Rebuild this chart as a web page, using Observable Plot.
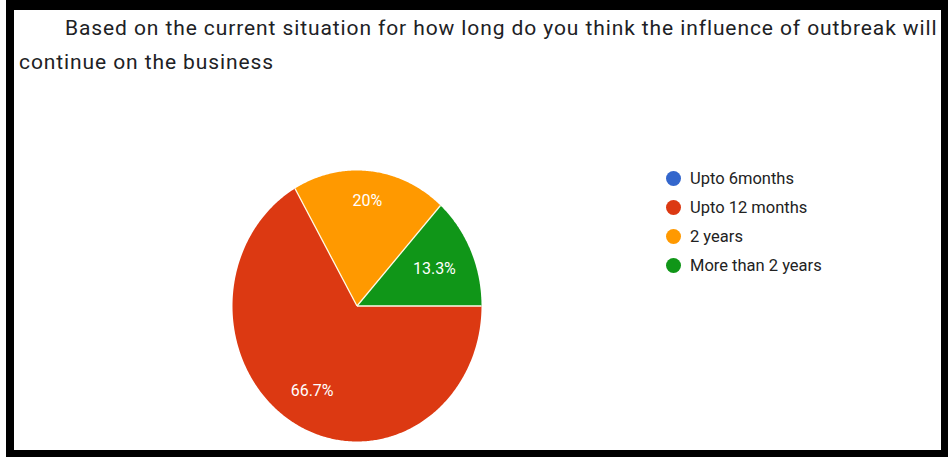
<!DOCTYPE html>
<html>
<head>
<meta charset="utf-8">
<script src="https://cdn.jsdelivr.net/npm/d3@7"></script>
<script src="https://cdn.jsdelivr.net/npm/@observablehq/plot@0.6"></script>
<style>
  html, body { margin: 0; padding: 0; background: #fff; width: 948px; height: 458px; overflow: hidden; }
  body { position: relative; font-family: Roboto, "Noto Sans", sans-serif; }
  #frame { position: absolute; left: 6px; top: 0; width: 942px; height: 457px; box-sizing: border-box;
           border-style: solid; border-color: #000; border-width: 10px 7px 7px 8px; }
  .title { position: absolute; color: #202124; white-space: nowrap; line-height: 1; }
  #chart { position: absolute; left: 14px; top: 80px; }
  #legend { position: absolute; left: 666px; top: 164px; }
  .row { display: flex; align-items: center; height: 29px; font-size: 16.5px; color: #222; }
  .dot { width: 15px; height: 15px; border-radius: 50%; margin-right: 9px; flex: none; }
</style>
</head>
<body>
<div id="frame"></div>
<div id="t1" class="title"></div>
<div id="t2" class="title"></div>
<div id="chart"></div>
<div id="legend"></div>
<script>
// ---- data ----
const titleLines = [
  "Based on the current situation for how long do you think the influence of outbreak will",
  "continue on the business"
];
const categories = ["Upto 6months", "Upto 12 months", "2 years", "More than 2 years"];
const percents = [0, 66.7, 20, 13.3];
const colors = ["#3366cc", "#dc3912", "#ff9900", "#109618"];

// ---- title (fit first line to reference width with letter spacing) ----
const font = "Roboto";
const titleSize = 21;
const canvas = document.createElement("canvas").getContext("2d");
canvas.font = `${titleSize}px ${font}`;
const w = canvas.measureText(titleLines[0]).width;
const spacing = Math.max(0, (872 - w) / titleLines[0].length);
const t1 = document.getElementById("t1"), t2 = document.getElementById("t2");
t1.textContent = titleLines[0];
t2.textContent = titleLines[1];
for (const t of [t1, t2]) { t.style.fontSize = titleSize + "px"; t.style.letterSpacing = spacing + "px"; }
const baseOff = titleSize * (0.927 - 0.0855);
t1.style.left = "65px"; t1.style.top = (36 - baseOff) + "px";
t2.style.left = "19px"; t2.style.top = (70 - baseOff) + "px";

// ---- pie geometry from data ----
const slices = categories.map((c, i) => ({category: c, value: percents[i]}));
const arcs = d3.pie().sort(null).value(d => d.value)
  .startAngle(Math.PI / 2).endAngle(Math.PI / 2 + 2 * Math.PI)(slices);

const polys = [];
const seps = [];
const labels = [];
for (const a of arcs) {
  if (a.data.value <= 0) continue;
  const n = Math.max(2, Math.ceil((a.endAngle - a.startAngle) / 0.01));
  polys.push({category: a.data.category, x: 0, y: 0});
  for (let k = 0; k <= n; k++) {
    const t = a.startAngle + (a.endAngle - a.startAngle) * k / n;
    polys.push({category: a.data.category, x: Math.sin(t), y: Math.cos(t)});
  }
  polys.push({category: a.data.category, x: 0, y: 0});
  seps.push({x2: Math.sin(a.startAngle), y2: Math.cos(a.startAngle)});
  const mid = (a.startAngle + a.endAngle) / 2;
  // narrow slices push the label outward toward the wider part of the wedge
  const frac = (a.endAngle - a.startAngle) / (2 * Math.PI);
  const r = frac < 0.15 ? 0.68 : frac < 0.3 ? 0.78 : 0.72;
  labels.push({x: r * Math.sin(mid), y: r * Math.cos(mid), text: `${a.data.value}%`});
}

const chart = Plot.plot({
  width: 640,
  height: 370,
  marginLeft: 218,
  marginRight: 173,
  marginTop: 90,
  marginBottom: 9,
  x: {domain: [-1, 1], axis: null},
  y: {domain: [-1, 1], axis: null},
  color: {domain: categories, range: colors},
  style: {background: "transparent", fontFamily: font, overflow: "visible"},
  marks: [
    Plot.line(polys, {x: "x", y: "y", z: "category", fill: "category", stroke: "none", curve: "linear"}),
    Plot.link(seps, {x1: 0, y1: 0, x2: "x2", y2: "y2", stroke: "#fffbe8", strokeWidth: 1.3}),
    Plot.text(labels, {x: "x", y: "y", text: "text", fill: "#fff", fontSize: 16, fontFamily: font})
  ]
});
document.getElementById("chart").append(chart);

// ---- legend ----
const legend = d3.select("#legend");
categories.forEach((c, i) => {
  const row = legend.append("div").attr("class", "row");
  row.append("div").attr("class", "dot").style("background", colors[i]);
  row.append("span").text(c);
});
</script>
</body>
</html>
